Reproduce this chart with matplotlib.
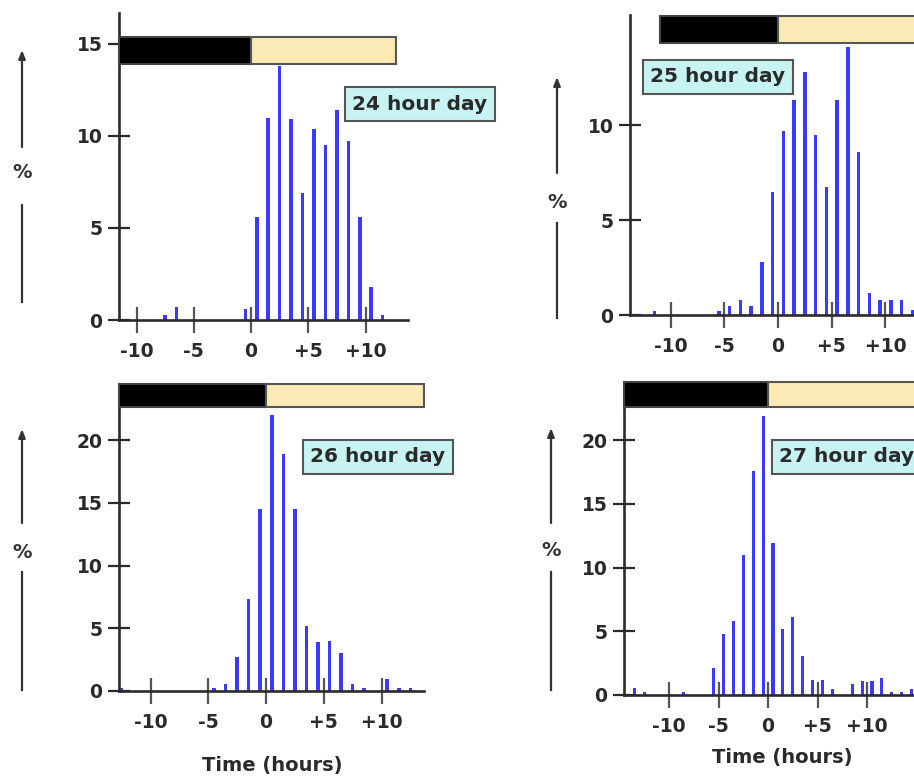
import matplotlib
matplotlib.use("Agg")

import matplotlib.pyplot as plt
from matplotlib.patches import Rectangle
from matplotlib.lines import Line2D

plt.rcParams['font.family'] = ['DejaVu Sans']
plt.rcParams['font.weight'] = 'bold'

# --- data (hour bins centred on half hours, % of onsets) ---
hours_24 = [-7.5, -6.5, -0.5, 0.5, 1.5, 2.5, 3.5, 4.5, 5.5, 6.5, 7.5, 8.5, 9.5, 10.5, 11.5]
pct_24 = [0.25, 0.7, 0.6, 5.6, 11.0, 13.8, 10.9, 6.9, 10.4, 9.5, 11.4, 9.7, 5.6, 1.8, 0.25]

hours_25 = [-11.5, -5.5, -4.5, -3.5, -2.5, -1.5, -0.5, 0.5, 1.5, 2.5, 3.5, 4.5,
            5.5, 6.5, 7.5, 8.5, 9.5, 10.5, 11.5, 12.5]
pct_25 = [0.23, 0.23, 0.47, 0.79, 0.47, 2.8, 6.5, 9.7, 11.3, 12.8, 9.5, 6.75,
          11.3, 14.1, 8.6, 1.15, 0.79, 0.79, 0.79, 0.26]

hours_26 = [-12.5, -4.5, -3.5, -2.5, -1.5, -0.5, 0.5, 1.5, 2.5, 3.5, 4.5, 5.5,
            6.5, 7.5, 8.5, 10.5, 11.5, 12.5]
pct_26 = [0.2, 0.2, 0.56, 2.7, 7.3, 14.5, 22.0, 18.9, 14.5, 5.2, 3.9, 4.0,
          3.0, 0.56, 0.2, 0.95, 0.2, 0.2]

hours_27 = [-13.5, -12.5, -8.5, -5.5, -4.5, -3.5, -2.5, -1.5, -0.5, 0.5, 1.5, 2.5,
            3.5, 4.5, 5.5, 6.5, 8.5, 9.5, 10.5, 11.5, 12.5, 13.5, 14.5]
pct_27 = [0.52, 0.25, 0.25, 2.1, 4.8, 5.8, 11.0, 17.6, 21.9, 11.9, 5.2, 6.1,
          3.06, 1.2, 1.2, 0.5, 0.85, 1.1, 1.1, 1.3, 0.2, 0.2, 0.5]

labels = ["24 hour day", "25 hour day", "26 hour day", "27 hour day"]
xticks = [-10, -5, 0, 5, 10]
xticklabels = ["-10", "-5", "0", "+5", "+10"]
yticks_top = [[0, 5, 10, 15], [0, 5, 10]]
yticks_bot = [0, 5, 10, 15, 20]
# dark / light bar: start of dark, dark->light, end of light (hours)
lightdark = [(-11.55, 0, 12.7), (-11.0, 0, 16.0), (-12.75, 0, 13.7), (-14.5, 0, 17.0)]

W, H = 914, 778
fig = plt.figure(figsize=(W / 100, H / 100), dpi=100)


def rect(l, r, b, t):
    return [l / W, 1 - b / H, (r - l) / W, (b - t) / H]


# layout: axes in pixels, x/y limits, y range of the dark/light bar, label box
panels = [
    dict(box=rect(119, 408, 320, 13), xlim=(-11.53, 13.71), ylim=(0, 16.68),
         bar=(13.9, 15.4), yt=yticks_top[0], lab=(420, 104, 'center'),
         pct=(22, 173, 302, 205, 147, 50), hours=hours_24, pct_v=pct_24),
    dict(box=rect(630, 930, 315, 15), xlim=(-13.77, 14.14), ylim=(0, 15.8),
         bar=(14.3, 15.74), yt=yticks_top[1], lab=(718, 77, 'center'),
         pct=(557, 203, 318, 223, 173, 77), hours=hours_25, pct_v=pct_25),
    dict(box=rect(119, 424, 691, 407), xlim=(-12.73, 13.68), ylim=(0, 22.63),
         bar=(22.63, 24.5), yt=yticks_bot, lab=(378, 457, 'center'),
         pct=(22, 552, 690, 572, 523, 429), hours=hours_26, pct_v=pct_26,
         xlabel=(272, 765)),
    dict(box=rect(624, 930, 695, 407), xlim=(-14.55, 16.36), ylim=(0, 22.6),
         bar=(22.6, 24.55), yt=yticks_bot, lab=(779, 457, 'left'),
         pct=(551, 550, 690, 572, 523, 428), hours=hours_27, pct_v=pct_27,
         xlabel=(782, 758)),
]

ink = '#2a2a2a'
for i, p in enumerate(panels):
    ax = fig.add_axes(p['box'])
    ax.bar(p['hours'], p['pct_v'], width=0.31, color='#3a3aff', zorder=1)
    ax.set_xlim(*p['xlim'])
    ax.set_ylim(*p['ylim'])
    for s in ['top', 'right']:
        ax.spines[s].set_visible(False)
    for s in ['left', 'bottom']:
        ax.spines[s].set_linewidth(1.9)
        ax.spines[s].set_color(ink)
    ax.set_xticks(xticks)
    ax.set_xticklabels(xticklabels)
    ax.set_yticks(p['yt'])
    ax.tick_params(axis='x', direction='inout', length=19, width=1.6, color='#555555',
                   pad=6, labelsize=13.5, labelcolor=ink)
    ax.tick_params(axis='y', direction='inout', length=16, width=1.6, color=ink,
                   pad=4, labelsize=13.5, labelcolor=ink)
    ax.patch.set_alpha(0)

    # dark / light bar on top
    x0, xm, x1 = lightdark[i]
    b0, b1 = p['bar']
    ax.add_patch(Rectangle((x0, b0), xm - x0, b1 - b0, facecolor='black',
                           edgecolor='#444444', lw=1.5, clip_on=False, zorder=3))
    ax.add_patch(Rectangle((xm, b0), x1 - xm, b1 - b0, facecolor='#fbeab6',
                           edgecolor='#555555', lw=1.5, clip_on=False, zorder=3))

    # label box
    lx, ly, ha = p['lab']
    fig.text(lx / W, 1 - ly / H, labels[i], ha=ha, va='center', fontsize=14.5,
             color=ink, bbox=dict(boxstyle='square,pad=0.35', fc='#c8f3f3',
                                  ec='#555555', lw=1.5))

    # "%" with arrow
    px, py, l0, l1, u0, u1 = p['pct']
    fig.text(px / W, 1 - py / H, '%', ha='center', va='center', fontsize=14,
             color='#333333')
    fig.add_artist(Line2D([px / W, px / W], [1 - l0 / H, 1 - l1 / H],
                          transform=fig.transFigure, color='#333333', lw=1.6))
    ax.annotate('', xy=(px / W, 1 - u1 / H), xytext=(px / W, 1 - u0 / H),
                xycoords='figure fraction', textcoords='figure fraction',
                arrowprops=dict(arrowstyle='-|>,head_length=0.5,head_width=0.2',
                                color='#333333', lw=1.6, shrinkA=0, shrinkB=0))

    if 'xlabel' in p:
        tx, ty = p['xlabel']
        fig.text(tx / W, 1 - ty / H, 'Time (hours)', ha='center', va='center',
                 fontsize=14, color=ink)

plt.savefig("out.png", dpi=100)
plt.close()
